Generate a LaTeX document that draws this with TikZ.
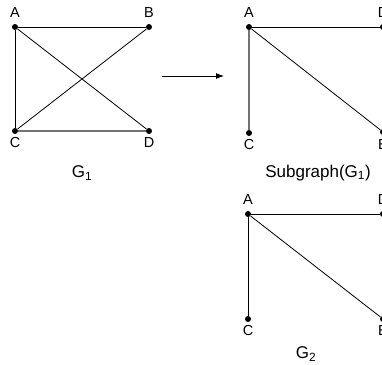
\documentclass[tikz,border=0pt]{standalone}
\usepackage{fontspec}
\setmainfont{Liberation Sans}
\usetikzlibrary{arrows.meta}
\begin{document}
\begin{tikzpicture}[x=1pt,y=-1pt,
  vtx/.style={circle,fill=black,inner sep=0pt,minimum size=6pt},
  lbl/.style={inner sep=0pt,font=\fontsize{14.5}{14.5}\selectfont},
  gcaption/.style={inner sep=0pt,font=\fontsize{17}{17}\selectfont},
  edge/.style={line width=0.8pt,black},
  gedge/.style={line width=1.1pt,black!55}]
\useasboundingbox (0,0) rectangle (382,364);
% G1
\node[vtx] (a1) at (15,27) {};
\node[vtx] (b1) at (149,27) {};
\node[vtx] (c1) at (15,131) {};
\node[vtx] (d1) at (149,131) {};
\node[lbl] (la1) at (15,13) {A};
\node[lbl] (lb1) at (149,13) {B};
\node[lbl] (lc1) at (15,143) {C};
\node[lbl] (ld1) at (149,143) {D};
\draw[edge] (a1) -- (b1);
\draw[edge,line width=1pt] (a1) -- (c1);
\draw[edge] (a1) -- (d1);
\draw[edge] (c1) -- (b1);
\draw[gedge] (c1) -- (d1);
\node[gcaption] (g1) at (82,173) {G\textsubscript{1}};
% arrow
\coordinate (s) at (162,76);
\coordinate (t) at (224,76);
\draw[line width=0.9pt,-{Latex[length=8pt,width=6pt]}] (s) -- (t);
% Subgraph
\node[vtx] (a2) at (249,27) {};
\node[vtx] (c2) at (249,133) {};
\node[vtx] (d2) at (383,27) {};
\node[vtx] (e2) at (383,132) {};
\node[lbl] (la2) at (249,13) {A};
\node[lbl] (lc2) at (249,145) {C};
\node[lbl] (ld2) at (383,13) {D};
\node[lbl] (le2) at (383,145) {E};
\draw[edge] (a2) -- (d2);
\draw[gedge] (a2) -- (c2);
\draw[edge] (a2) -- (e2);
\node[gcaption] (sg) at (318,173) {Subgraph(G\textsubscript{1})};
% G2
\node[vtx] (a3) at (248,214) {};
\node[vtx] (c3) at (248,319) {};
\node[vtx] (d3) at (383,214) {};
\node[vtx] (e3) at (383,319) {};
\node[lbl] (la3) at (248,200) {A};
\node[lbl] (lc3) at (248,331) {C};
\node[lbl] (ld3) at (383,200) {D};
\node[lbl] (le3) at (383,331) {E};
\draw[edge] (a3) -- (d3);
\draw[edge,line width=1pt] (a3) -- (c3);
\draw[edge] (a3) -- (e3);
\node[gcaption] (g2) at (306,354) {G\textsubscript{2}};
\end{tikzpicture}
\end{document}
